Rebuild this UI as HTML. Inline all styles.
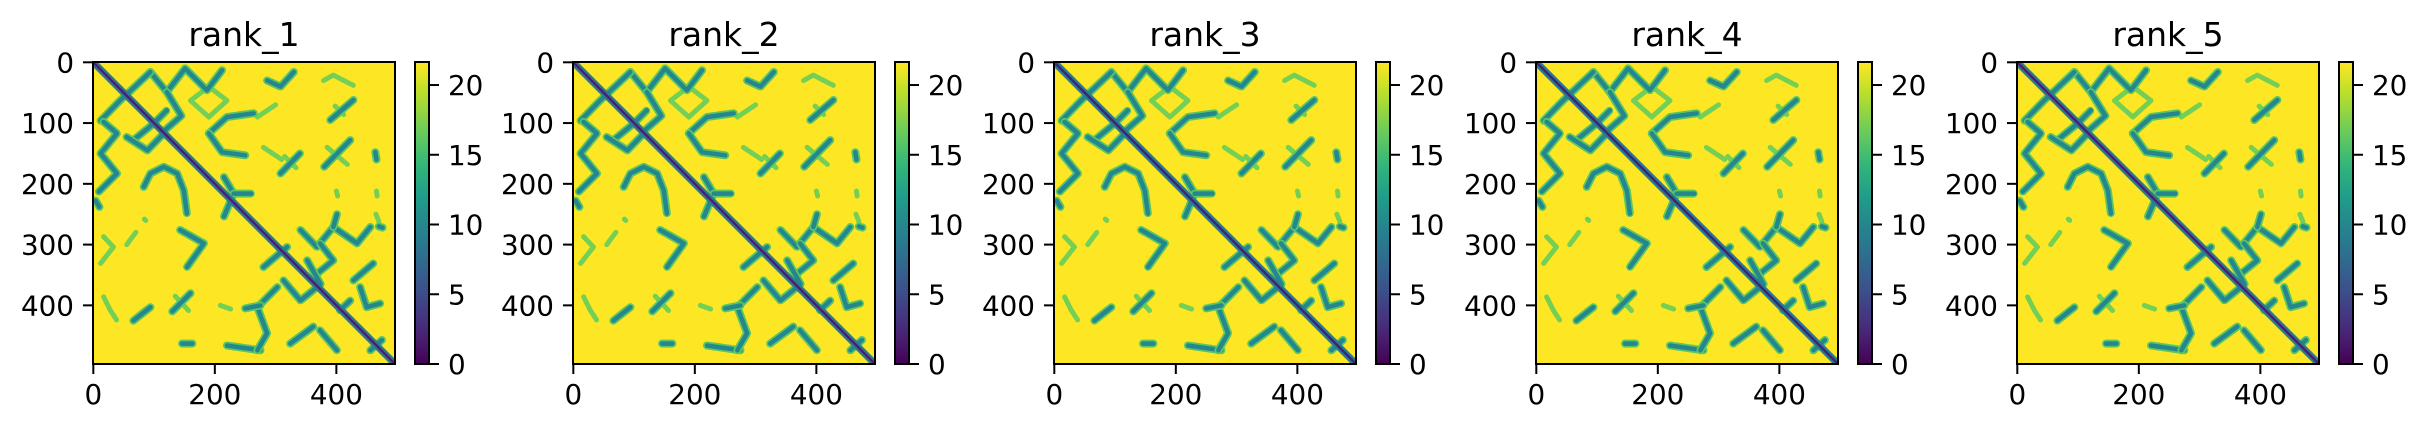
<!DOCTYPE html>
<html><head><meta charset="utf-8">
<style>
html,body{margin:0;padding:0;background:#fff;}
svg{display:block;}
text{font-family:"DejaVu Sans","Liberation Sans",sans-serif;fill:#000;}
</style></head>
<body>
<svg id="fig" width="2428" height="432" viewBox="0 0 2428 432" xmlns="http://www.w3.org/2000/svg"></svg>
<script>
// ---- data ----
const panelTitles = ["rank_1","rank_2","rank_3","rank_4","rank_5"];
const nResidues = 497;
const vMax = 21.65;
const axisTicks = [0,200,400];
const yTicks = [0,100,200,300,400];
const cbarTicks = [0,5,10,15,20];
const backgroundValue = 21.65;
const diagCoreValue = 2;
const diagEdgeValue = 9;
// strong contact strands: polylines in residue coords [x,y,...]
const strongStrands = [
 [94,16,121,49,151,10,187,46,212,13],
 [12,96,44,63,94,16],
 [17,98,39,117,12,150,39,183,9,213],
 [4,228,10,238],
 [66,128,99,101,121,79],
 [55,123,89,145,116,117],
 [121,49,145,88,120,110],
 [190,117,220,90,264,84],
 [190,117,212,148,250,153],
 [286,30,308,40,330,16],
 [390,95,428,62],
 [308,183,340,150],
 [380,172,423,128],
 [464,148,466,160],
 [341,276,368,304,395,271,434,298,456,271],
 [470,270,476,272],
 [395,271,401,250],
 [362,353,395,326,373,298],
 [428,359,461,331],
 [439,370,450,403,472,397],
 [456,474,475,457],
 [83,205,94,183,116,172,138,183,149,211,154,249],
 [143,276,182,298,154,337],
 [215,189,231,216,215,254],
 [231,216,260,216],
 [66,425,94,403],
 [130,410,160,380],
 [146,463,163,463],
 [220,466,275,474],
 [280,337,319,304],
 [313,359,341,392,374,365,352,326],
 [303,370,270,403,286,446,270,474],
 [324,463,362,435],
 [373,441,401,474],
 [406,408,423,392],
 [250,405,275,400]
];
const strongValue = 10;
// faint strands
const faintStrands = [
 [379,30,395,21,428,38],
 [398,72,412,86],
 [315,155,335,175],
 [385,140,418,168],
 [160,63,190,90,220,63,190,40,160,63],
 [17,287,33,304,12,331],
 [17,386,28,408,39,425],
 [135,385,158,410],
 [209,400,226,406],
 [84,258,88,262],
 [400,212,402,220],[466,212,467,220],[465,250,470,262],
 [270,90,300,70],
 [280,140,310,160],
 [55,300,70,280]
];
const faintValue = 17;

// ---- helpers ----
const NS="http://www.w3.org/2000/svg";
const svg=document.getElementById('fig');
function mk(tag,attrs,parent){const e=document.createElementNS(NS,tag);for(const k in attrs)e.setAttribute(k,attrs[k]);(parent||svg).appendChild(e);return e;}
const VIR=[[68,1,84],[72,40,120],[62,74,137],[49,104,142],[38,130,142],[31,158,137],[53,183,121],[110,206,88],[181,222,43],[253,231,37]];
function viridis(v){let t=Math.max(0,Math.min(1,v/vMax))*(VIR.length-1);const i=Math.min(VIR.length-2,Math.floor(t));const f=t-i;const a=VIR[i],b=VIR[i+1];return 'rgb('+a.map((c,k)=>Math.round(c+(b[k]-c)*f)).join(',')+')';}

const panelLefts=[93,573,1054,1536,2017];
const imgTop=62, imgSize=302;
const scale=imgSize/nResidues;

panelTitles.forEach((title,p)=>{
  const L=panelLefts[p];
  const xs=v=>L+(v+0.5)*scale;
  const ys=v=>imgTop+(v+0.5)*scale;
  const g=mk('g',{});
  
  
  const t=mk('text',{x:L+imgSize/2,y:46,'font-size':33,'text-anchor':'middle'},g);
  t.textContent=title;
  
  
  const clipId='clip'+p;
  const cp=mk('clipPath',{id:clipId},g);
  mk('rect',{x:L,y:imgTop,width:imgSize,height:imgSize},cp);
  const hm=mk('g',{'clip-path':'url(#'+clipId+')'},g);
  
  
  mk('rect',{x:L,y:imgTop,width:imgSize,height:imgSize,fill:viridis(backgroundValue)},hm);
  const pts=a=>{let s=[];for(let i=0;i<a.length;i+=2)s.push(xs(a[i]).toFixed(1)+','+ys(a[i+1]).toFixed(1));return s.join(' ');};
  faintStrands.forEach(s=>{
    const e=mk('polyline',{points:pts(s),fill:'none',stroke:viridis(faintValue),'stroke-width':5,'stroke-linecap':'round','stroke-linejoin':'round','stroke-dasharray':'2 1.5'},hm);
    
    
  });
  strongStrands.forEach(s=>{
    mk('polyline',{points:pts(s),fill:'none',stroke:viridis(16),'stroke-width':8,'stroke-linecap':'round','stroke-linejoin':'round','stroke-dasharray':'2 1'},hm);
    const e=mk('polyline',{points:pts(s),fill:'none',stroke:viridis(strongValue),'stroke-width':4.5,'stroke-linecap':'round','stroke-linejoin':'round'},hm);
    
    
  });
  mk('line',{x1:xs(0),y1:ys(0),x2:xs(nResidues),y2:ys(nResidues),stroke:viridis(diagEdgeValue),'stroke-width':7},hm);
  const d=mk('line',{x1:xs(0),y1:ys(0),x2:xs(nResidues),y2:ys(nResidues),stroke:viridis(diagCoreValue),'stroke-width':2.5},hm);
  
  
  const fr=mk('rect',{x:L,y:imgTop,width:imgSize,height:imgSize,fill:'none',stroke:'#000','stroke-width':2},g);
  
  
  axisTicks.forEach(v=>{
    mk('line',{x1:xs(v),y1:imgTop+imgSize,x2:xs(v),y2:imgTop+imgSize+10,stroke:'#000','stroke-width':2},g);
    const tl=mk('text',{x:xs(v),y:imgTop+imgSize+40,'font-size':27.8,'text-anchor':'middle'},g);
    tl.textContent=v;
    
    
  });
  yTicks.forEach(v=>{
    mk('line',{x1:L-10,y1:ys(v),x2:L,y2:ys(v),stroke:'#000','stroke-width':2},g);
    const tl=mk('text',{x:L-19,y:ys(v)+10,'font-size':27.8,'text-anchor':'end'},g);
    tl.textContent=v;
    
    
  });
  // colorbar
  const cx=L+322, cw=14;
  const gid='grad'+p;
  const lg=mk('linearGradient',{id:gid,x1:0,y1:1,x2:0,y2:0},g);
  for(let i=0;i<=20;i++){mk('stop',{offset:(i/20),'stop-color':viridis(vMax*i/20)},lg);}
  const cb=mk('rect',{x:cx,y:imgTop,width:cw,height:imgSize,fill:'url(#'+gid+')',stroke:'#000','stroke-width':2},g);
  
  
  const cy=v=>imgTop+imgSize-v/vMax*imgSize;
  cbarTicks.forEach(v=>{
    mk('line',{x1:cx+cw,y1:cy(v),x2:cx+cw+10,y2:cy(v),stroke:'#000','stroke-width':2},g);
    const tl=mk('text',{x:cx+cw+19,y:cy(v)+10,'font-size':27.8},g);
    tl.textContent=v;
    
    
  });
});
</script>
</body></html>
